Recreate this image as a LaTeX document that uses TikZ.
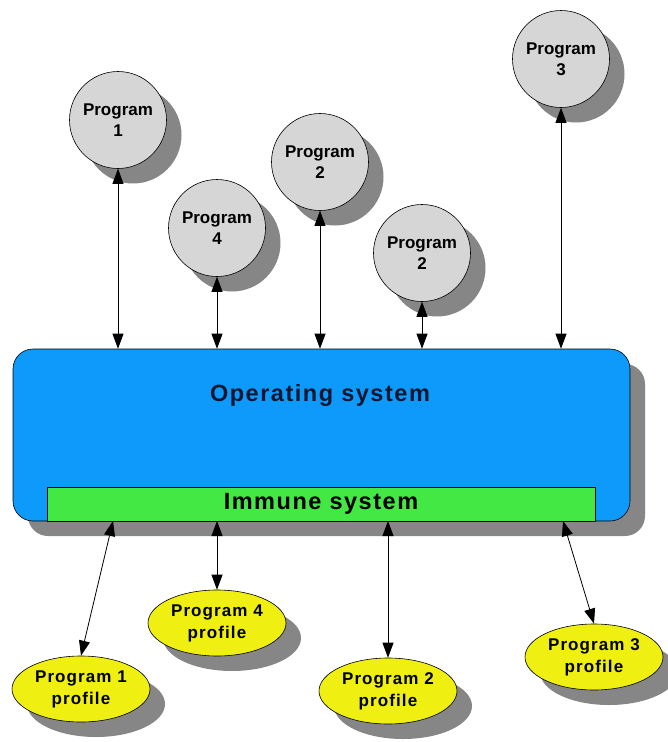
\documentclass[tikz,border=0pt]{standalone}
\usepackage{fontspec}
\setmainfont{Liberation Sans}
\newfontfamily\widesans{Liberation Sans}[LetterSpace=6.5]
\usetikzlibrary{shapes.geometric,shadows,arrows.meta}

\definecolor{progfill}{HTML}{D6D6D6}
\definecolor{shadegray}{HTML}{868686}
\definecolor{osblue}{HTML}{0D9AFA}
\definecolor{immgreen}{HTML}{44E844}
\definecolor{profyellow}{HTML}{EFEF12}
\definecolor{ostext}{HTML}{0B1630}

\begin{document}
\begin{tikzpicture}[x=1pt,y=-1pt,
  shade/.style={drop shadow={shadow xshift=15pt,shadow yshift=-15pt,fill=shadegray,opacity=1}},
  program/.style={circle,draw=black,line width=0.6pt,fill=progfill,shade,
    minimum size=97pt,inner sep=0pt,align=center,
    font=\fontsize{17}{21}\selectfont\bfseries},
  profile/.style={ellipse,draw=black,line width=0.6pt,fill=profyellow,shade,
    minimum width=138pt,minimum height=66pt,inner sep=0pt,align=center,
    font=\widesans\fontsize{17}{22}\selectfont\bfseries},
  osbox/.style={rectangle,rounded corners=20pt,draw=black,line width=0.6pt,
    fill=osblue,shade,minimum width=617pt,minimum height=172pt,inner sep=0pt},
  immbox/.style={rectangle,draw=black,line width=0.6pt,fill=immgreen,
    minimum width=548pt,minimum height=34pt,inner sep=0pt,
    font=\widesans\fontsize{23.5}{26}\selectfont\bfseries},
  link/.style={line width=0.8pt,
    {Triangle[length=15pt,width=11pt]}-{Triangle[length=15pt,width=11pt]}}]

  % page frame
  \useasboundingbox (0,0) rectangle (667,742);

  % operating system with its immune layer
  \node[osbox] (os) at (321.5,435) {};
  \node[font=\widesans\fontsize{23.5}{26}\selectfont\bfseries,text=ostext] (ostitle) at (320,395) {Operating system};
  \node[immbox] (imm) at (321,504) {Immune system};

  % running programs
  \node[program] (p1) at (118,120) {Program\\1};
  \node[program] (p4) at (217,228) {Program\\4};
  \node[program] (p2a) at (320,162) {Program\\2};
  \node[program] (p2b) at (422,253) {Program\\2};
  \node[program] (p3) at (561,59) {Program\\3};

  % stored profiles
  \node[profile] (e1) at (81,689) {Program 1\\profile};
  \node[profile] (e4) at (217,623) {Program 4\\profile};
  \node[profile] (e2) at (388,691) {Program 2\\profile};
  \node[profile] (e3) at (594,657) {Program 3\\profile};

  % programs <-> operating system
  \draw[link] (p1) -- (p1 |- os.north);
  \draw[link] (p4) -- (p4 |- os.north);
  \draw[link] (p2a) -- (p2a |- os.north);
  \draw[link] (p2b) -- (p2b |- os.north);
  \draw[link] (p3) -- (p3 |- os.north);

  % immune system <-> profiles
  \coordinate (b1) at (113,521);
  \coordinate (b4) at (217,521);
  \coordinate (b2) at (388,521);
  \coordinate (b3) at (563,521);
  \draw[link] (b1) -- (e1.north);
  \draw[link] (b4) -- (e4.north);
  \draw[link] (b2) -- (e2.north);
  \draw[link] (b3) -- (e3.north);
\end{tikzpicture}
\end{document}
